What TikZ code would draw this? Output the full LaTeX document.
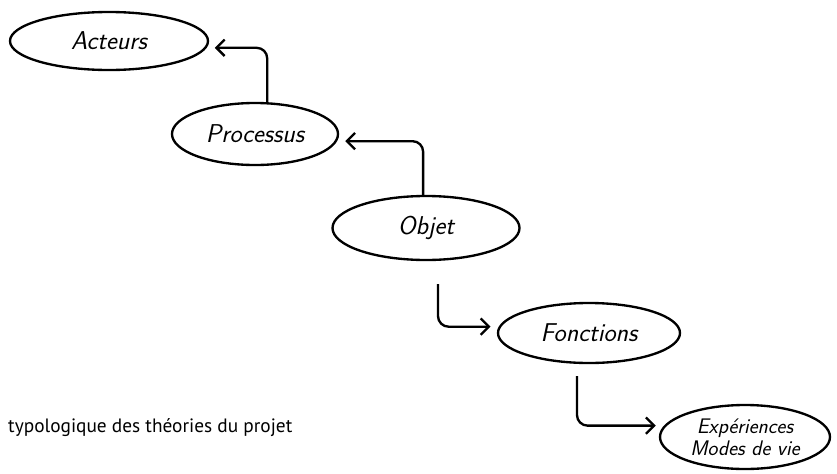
\documentclass[tikz,border=0pt]{standalone}
\usepackage{fontspec}
\newfontfamily\capfont{PT Sans}
\usetikzlibrary{shapes.geometric,arrows.meta}

\tikzset{
  bulle/.style={draw, ellipse, line width=2pt, inner sep=0pt,
    font=\sffamily\itshape\fontsize{22}{24}\selectfont},
  fleche/.style={line width=2pt, rounded corners=9pt,
    -{Straight Barb[length=7pt,width=14pt,line width=2pt]}, shorten >=7pt}
}

\begin{document}
\begin{tikzpicture}[x=0.03cm,y=-0.03cm]
\useasboundingbox (0,0) rectangle (837,473);

\node[bulle, minimum width=5.94cm, minimum height=1.74cm] (act) at (109,41) {Acteurs};
\node[bulle, minimum width=4.98cm, minimum height=1.86cm] (proc) at (255,134) {Processus};
\node[bulle, minimum width=5.61cm, minimum height=1.92cm] (obj) at (426,228) {Objet};
\node[bulle, minimum width=5.46cm, minimum height=1.80cm] (fonc) at (589,333) {Fonctions};
\node[bulle, minimum width=5.10cm, minimum height=1.92cm, align=center,
  font=\sffamily\itshape\fontsize{18}{19}\selectfont] (exp) at (745,437) {Expériences\\Modes de vie};

\draw[fleche] (proc.69) |- (act.-4);
\draw[fleche] (obj.95) |- (proc.-5);
\draw[fleche] ([shift={(12,23)}]obj.south) |- (fonc.176);
\draw[fleche] ([shift={(-12,12)}]fonc.south) |- (exp.172);

\node[anchor=base west, inner sep=0pt, font=\capfont\fontsize{16.5}{19}\selectfont]
  (titre) at (8,432) {typologique des théories du projet};
\end{tikzpicture}
\end{document}
